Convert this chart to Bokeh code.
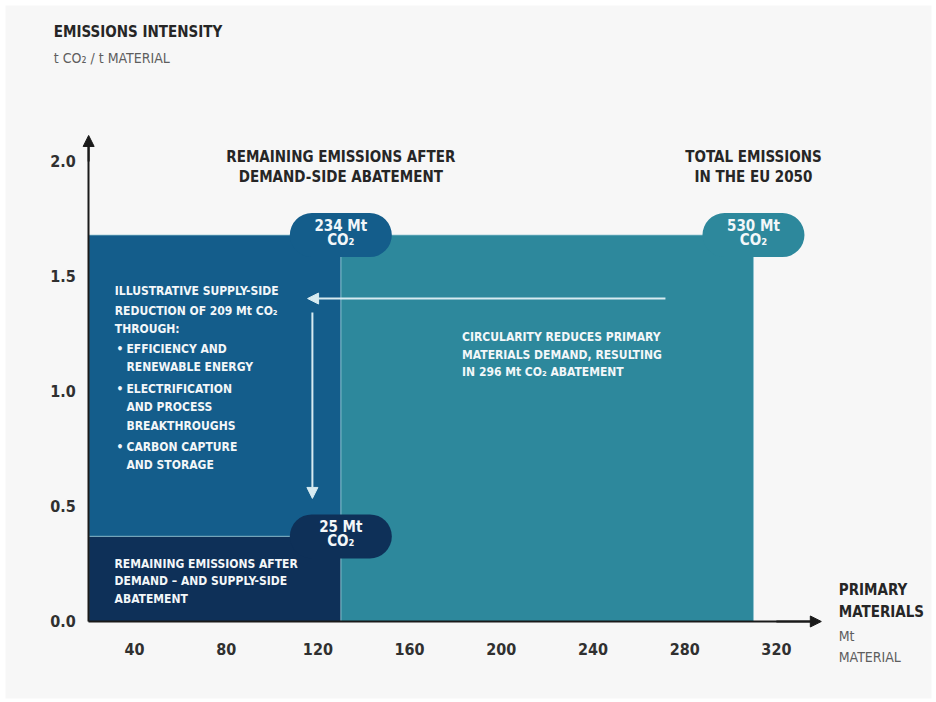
from bokeh.plotting import figure
from bokeh.models import Label, Arrow, NormalHead, FixedTicker, ColumnDataSource, LinearAxis
from bokeh.embed import file_html
from bokeh.resources import INLINE

# ---------------- data ----------------
x_ticks = [40, 80, 120, 160, 200, 240, 280, 320]
y_ticks = [0.0, 0.5, 1.0, 1.5, 2.0]
y_tick_labels = ["0.0", "0.5", "1.0", "1.5", "2.0"]

# primary materials (Mt material): axis start, after circularity, total EU 2050
material_start = 20
material_after_circularity = 130
material_total = 310
# emissions intensity (t CO2 / t material): before and after supply-side measures
intensity_before = 1.68
intensity_after = 0.37

block_names = ["Circularity abatement 296 Mt", "Supply-side reduction 209 Mt", "Remaining 25 Mt"]
block_left = [material_after_circularity, material_start, material_start]
block_right = [material_total, material_after_circularity, material_after_circularity]
block_bottom = [0.0, intensity_after, 0.0]
block_top = [intensity_before, intensity_before, intensity_after]

pill_x = [material_after_circularity, material_total, material_after_circularity]
pill_y = [intensity_before, intensity_before, intensity_after]
pill_values = ["234 Mt", "530 Mt", "25 Mt"]

# ---------------- style ----------------
TEAL = "#2d889c"
BLUE = "#145d8b"
NAVY = "#0e3058"
BG = "#f7f7f7"
DARK = "#262626"
GREY = "#5e5e5e"
WHITE = "#f3f7f9"
ARROW = "#d7ebf1"
AXIS = "#1a1a1a"
FONT = "'Liberation Sans Narrow', 'Arial Narrow', 'DejaVu Sans Condensed', sans-serif"
TEXT_SHIFT = 5  # px, lifts every label so its baseline sits where the reference has it

block_colors = [TEAL, BLUE, NAVY]
pill_colors = [BLUE, TEAL, NAVY]

p = figure(width=934, height=700, x_range=(-16.27, 387.66), y_range=(-0.3348, 2.678),
           output_backend="svg", toolbar_location=None,
           x_axis_location=None, y_axis_location=None,
           min_border_left=5, min_border_top=5, min_border_right=3, min_border_bottom=2)
p.background_fill_color = BG
p.border_fill_color = "white"
p.outline_line_color = None
p.grid.visible = False

# axes (drawn at fixed data locations inside the frame)
xaxis = LinearAxis(fixed_location=0, ticker=FixedTicker(ticks=x_ticks),
                   bounds=(material_start, 336))
yaxis = LinearAxis(fixed_location=material_start, ticker=FixedTicker(ticks=y_ticks),
                   bounds=(0, 2.09),
                   major_label_overrides={t: s for t, s in zip(y_ticks, y_tick_labels)})
for ax in (xaxis, yaxis):
    ax.major_tick_line_color = None
    ax.minor_tick_line_color = None
    ax.major_tick_out = 0
    ax.major_tick_in = 0
    ax.axis_line_color = AXIS
    ax.axis_line_width = 2
    ax.major_label_text_font = FONT
    ax.major_label_text_font_style = "bold"
    ax.major_label_text_font_size = "16px"
    ax.major_label_text_color = "#303030"
xaxis.major_label_standoff = 22
yaxis.major_label_standoff = 13

# blocks
src = ColumnDataSource(dict(left=block_left, right=block_right, bottom=block_bottom,
                            top=block_top, color=block_colors, name=block_names))
p.quad(left="left", right="right", bottom="bottom", top="top", fill_color="color",
       line_color="#8ec3d1", line_alpha=0.7, line_width=1, source=src)

p.add_layout(xaxis, "below")
p.add_layout(yaxis, "left")

# value pills
psrc = ColumnDataSource(dict(x=pill_x, y=pill_y, color=pill_colors))
p.rect(x="x", y="y", width=102, height=44, width_units="screen", height_units="screen",
       border_radius=22, fill_color="color", line_color=None, source=psrc)

# axis arrow heads
p.add_layout(Arrow(end=NormalHead(size=11, fill_color=AXIS, line_color=AXIS),
                   x_start=material_start, y_start=2.0, x_end=material_start, y_end=2.113,
                   line_color=AXIS, line_width=2))
p.add_layout(Arrow(end=NormalHead(size=11, fill_color=AXIS, line_color=AXIS),
                   x_start=320, y_start=0, x_end=339.6, y_end=0,
                   line_color=AXIS, line_width=2))

# light annotation arrows
p.add_layout(Arrow(end=NormalHead(size=11, fill_color=ARROW, line_color=ARROW),
                   x_start=271.6, y_start=1.404, x_end=115.5, y_end=1.404,
                   line_color=ARROW, line_width=2))
p.add_layout(Arrow(end=NormalHead(size=11, fill_color=ARROW, line_color=ARROW),
                   x_start=117.6, y_start=1.343, x_end=117.6, y_end=0.535,
                   line_color=ARROW, line_width=2))


def lab(text, x, y, size, color, style="bold", align="left", yoff=0):
    p.add_layout(Label(x=x, y=y, text=text, text_font=FONT, text_font_size=size,
                       text_font_style=style, text_color=color, text_align=align,
                       text_baseline="alphabetic", y_offset=yoff + TEXT_SHIFT))


# y-axis title
lab("EMISSIONS INTENSITY", 4.8, 2.540, "15px", DARK)
lab("t CO₂ / t MATERIAL", 4.8, 2.430, "14px", GREY, style="normal")

# x-axis title
lab("PRIMARY", 347.2, 0.113, "15px", DARK)
lab("MATERIALS", 347.2, 0.019, "15px", DARK)
lab("Mt", 347.2, -0.083, "14px", GREY, style="normal")
lab("MATERIAL", 347.2, -0.177, "14px", GREY, style="normal")

# headlines
lab("REMAINING EMISSIONS AFTER", material_after_circularity, 1.997, "15px", DARK, align="center")
lab("DEMAND-SIDE ABATEMENT", material_after_circularity, 1.910, "15px", DARK, align="center")
lab("TOTAL EMISSIONS", material_total, 1.997, "15px", DARK, align="center")
lab("IN THE EU 2050", material_total, 1.910, "15px", DARK, align="center")

# pill texts
for x, y, v in zip(pill_x, pill_y, pill_values):
    lab(v, x, y, "15px", WHITE, align="center", yoff=4)
    lab("CO₂", x, y, "15px", WHITE, align="center", yoff=-10)

# supply-side block text
block_lines = [("ILLUSTRATIVE SUPPLY-SIDE", 31.4, 1.413),
               ("REDUCTION OF 209 Mt CO₂", 31.4, 1.330),
               ("THROUGH:", 31.4, 1.251),
               ("•", 32.2, 1.161), ("EFFICIENCY AND", 36.5, 1.161),
               ("RENEWABLE ENERGY", 36.5, 1.084),
               ("•", 32.2, 0.987), ("ELECTRIFICATION", 36.5, 0.987),
               ("AND PROCESS", 36.5, 0.910),
               ("BREAKTHROUGHS", 36.5, 0.830),
               ("•", 32.2, 0.736), ("CARBON CAPTURE", 36.5, 0.736),
               ("AND STORAGE", 36.5, 0.657)]
for t, x, y in block_lines:
    lab(t, x, y, "12px", WHITE)

circ_lines = [("CIRCULARITY REDUCES PRIMARY", 1.214),
              ("MATERIALS DEMAND, RESULTING", 1.135),
              ("IN 296 Mt CO₂ ABATEMENT", 1.062)]
for t, y in circ_lines:
    lab(t, 182.9, y, "12px", WHITE)

rem_lines = [("REMAINING EMISSIONS AFTER", 0.229),
             ("DEMAND – AND SUPPLY-SIDE", 0.153),
             ("ABATEMENT", 0.077)]
for t, y in rem_lines:
    lab(t, 31.3, y, "12px", WHITE)

open("out.html", "w").write(file_html(p, INLINE))
